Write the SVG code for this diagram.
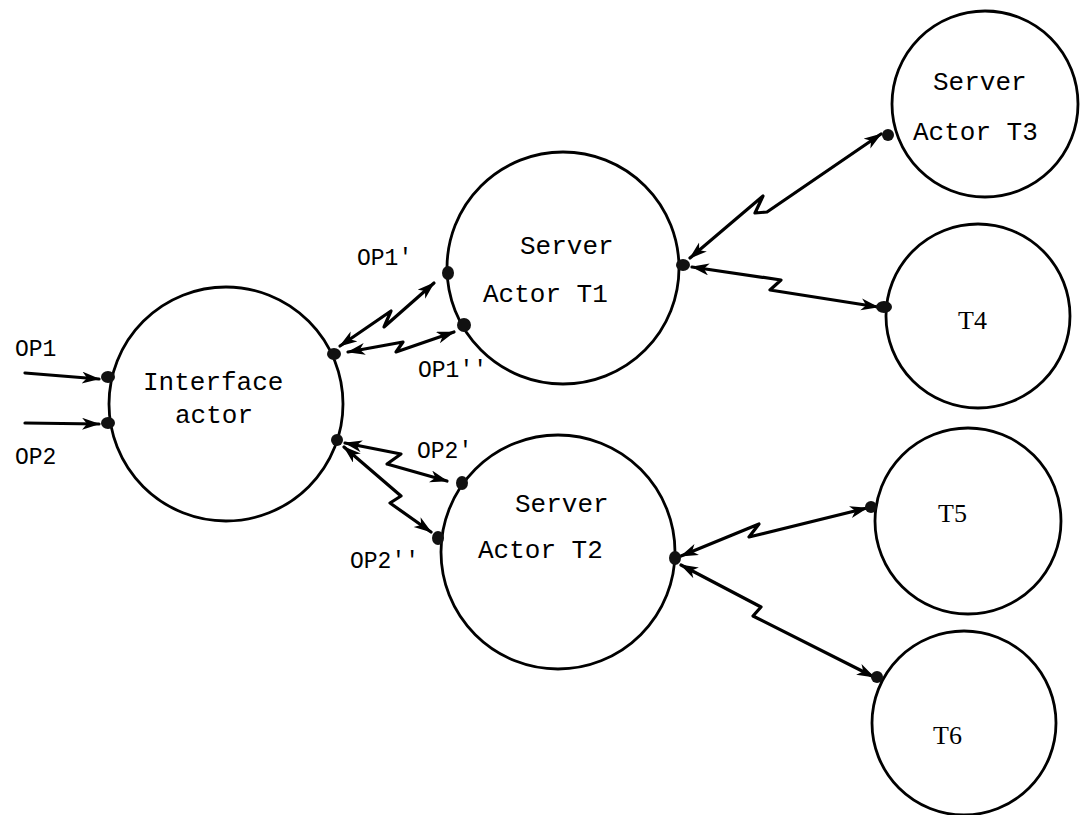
<svg xmlns="http://www.w3.org/2000/svg" width="1087" height="815" viewBox="0 0 1087 815">
<style>
.node{fill:none;stroke:#000;stroke-width:2.8}
.lbl{font-family:"Liberation Mono","DejaVu Sans Mono",monospace;font-size:26px;fill:#000}
.op{font-family:"Liberation Mono","DejaVu Sans Mono",monospace;font-size:23px;fill:#000}
.tl{font-family:"Liberation Serif","DejaVu Serif",serif;font-size:26px;fill:#000}
.dot{fill:#111}
.con{fill:none;stroke:#000;stroke-width:3.2;stroke-linejoin:round;stroke-linecap:round}
</style>
<defs>
<marker id="ah" markerUnits="userSpaceOnUse" markerWidth="22" markerHeight="14" refX="17" refY="6" orient="auto-start-reverse">
<path d="M0,0 L18,6 L0,12 L5,6 Z" fill="#000"/>
</marker>
</defs>
<rect width="1087" height="815" fill="#fff"/>
<g id="connectors">
<path class="con" d="M25,373 L99,379" marker-end="url(#ah)"/>
<path class="con" d="M25,423 L99,424" marker-end="url(#ah)"/>
<path class="con" d="M340,346 L391,311 L384,327 L434,283" marker-start="url(#ah)" marker-end="url(#ah)"/>
<path class="con" d="M348,352 L403,342 L396,352 L454,332" marker-start="url(#ah)" marker-end="url(#ah)"/>
<path class="con" d="M345,443 L401,454 L387,464 L447,481" marker-start="url(#ah)" marker-end="url(#ah)"/>
<path class="con" d="M344,447 L401,496 L390,503 L431,532" marker-start="url(#ah)" marker-end="url(#ah)"/>
<path class="con" d="M690,258 L763,196 L755,213 L767,212 L881,134" marker-start="url(#ah)" marker-end="url(#ah)"/>
<path class="con" d="M692,267 L781,280 L770,290 L878,307" marker-start="url(#ah)" marker-end="url(#ah)"/>
<path class="con" d="M681,556 L759,524 L749,537 L867,508" marker-start="url(#ah)" marker-end="url(#ah)"/>
<path class="con" d="M681,565 L761,607 L753,616 L874,677" marker-start="url(#ah)" marker-end="url(#ah)"/>
</g>
<g id="labels">
<text class="op" x="15" y="356">OP1</text>
<text class="op" x="15" y="464">OP2</text>
<text class="op" x="357" y="265">OP1'</text>
<text class="op" x="418" y="377">OP1''</text>
<text class="op" x="417" y="458">OP2'</text>
<text class="op" x="350" y="568">OP2''</text>
</g>
<g id="interface">
<circle class="node" cx="226" cy="404" r="117"/>
<text class="lbl" x="143" y="390">Interface</text>
<text class="lbl" x="175" y="423">actor</text>
<ellipse class="dot" cx="108" cy="377" rx="7" ry="6"/>
<ellipse class="dot" cx="108" cy="423" rx="7" ry="6"/>
<ellipse class="dot" cx="334" cy="354" rx="7" ry="6"/>
<ellipse class="dot" cx="337" cy="440" rx="6" ry="6"/>
</g>
<g id="t1">
<circle class="node" cx="563" cy="268" r="116"/>
<text class="lbl" x="520" y="254">Server</text>
<text class="lbl" x="483" y="302">Actor T1</text>
<ellipse class="dot" cx="448" cy="273" rx="6" ry="7"/>
<ellipse class="dot" cx="464" cy="325" rx="7" ry="7"/>
<ellipse class="dot" cx="683" cy="265" rx="7" ry="6"/>
</g>
<g id="t2">
<circle class="node" cx="558" cy="552" r="117"/>
<text class="lbl" x="515" y="512">Server</text>
<text class="lbl" x="478" y="558">Actor T2</text>
<ellipse class="dot" cx="462" cy="483" rx="6" ry="7"/>
<ellipse class="dot" cx="438" cy="538" rx="6" ry="7"/>
<ellipse class="dot" cx="675" cy="558" rx="6" ry="7"/>
</g>
<g id="t3">
<circle class="node" cx="985" cy="104" r="93"/>
<text class="lbl" x="933" y="90">Server</text>
<text class="lbl" x="913" y="140">Actor T3</text>
<ellipse class="dot" cx="888" cy="135" rx="6" ry="6"/>
</g>
<g id="t4">
<circle class="node" cx="978" cy="316" r="92"/>
<text class="tl" x="958" y="329">T4</text>
<ellipse class="dot" cx="884" cy="307" rx="8" ry="6"/>
</g>
<g id="t5">
<circle class="node" cx="968" cy="521" r="93"/>
<text class="tl" x="938" y="522">T5</text>
<ellipse class="dot" cx="871" cy="507" rx="6" ry="6"/>
</g>
<g id="t6">
<circle class="node" cx="964" cy="723" r="92"/>
<text class="tl" x="933" y="744">T6</text>
<ellipse class="dot" cx="877" cy="677" rx="6" ry="6"/>
</g>
</svg>
